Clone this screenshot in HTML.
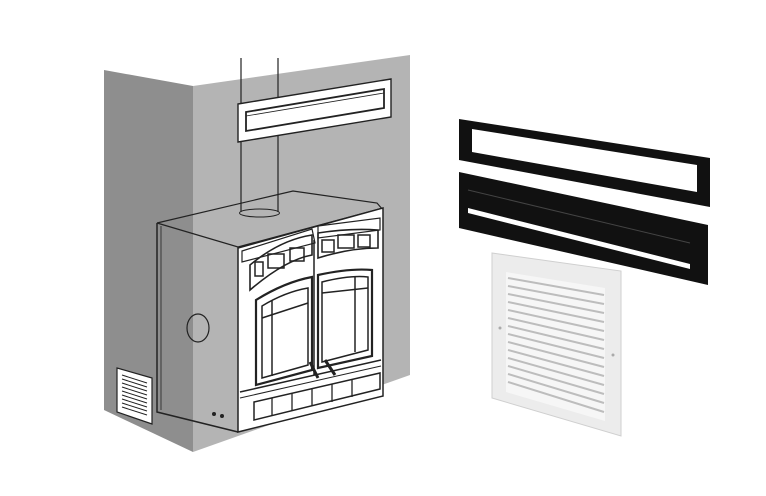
<!DOCTYPE html>
<html><head><meta charset="utf-8"><style>
html,body{margin:0;padding:0;background:#fff;}
svg{display:block}
</style></head><body>
<svg width="766" height="496" viewBox="0 0 766 496" xmlns="http://www.w3.org/2000/svg">
<rect width="766" height="496" fill="#fff"/>
<!-- walls -->
<polygon points="104,70 193,86 193,452 104,410" fill="#8e8e8e"/>
<polygon points="193,86 410,55 410,375 193,452" fill="#b4b4b4"/>
<!-- flue -->
<line x1="241" y1="58" x2="241" y2="212" stroke="#222" stroke-width="1.2"/>
<line x1="278" y1="58" x2="278" y2="212" stroke="#222" stroke-width="1.2"/>
<ellipse cx="259.5" cy="213" rx="20" ry="4" fill="none" stroke="#222" stroke-width="1"/>
<!-- top vent -->
<polygon points="238,104 391,79 391,117 238,142" fill="#fff" stroke="#222" stroke-width="1.4"/>
<polygon points="246,112 384,89 384,108 246,131" fill="#fff" stroke="#222" stroke-width="1.8"/>
<line x1="246" y1="116" x2="384" y2="93" stroke="#222" stroke-width="0.8"/>
<!-- box top & side outlines -->
<polyline points="157,223 293,191 377,203 383,210" fill="none" stroke="#222" stroke-width="1.2"/>
<polyline points="157,223 238,247 383,208" fill="none" stroke="#222" stroke-width="1.2"/>
<polyline points="157,223 157,412 238,432" fill="none" stroke="#222" stroke-width="1.5"/>
<line x1="161" y1="226" x2="161" y2="410" stroke="#222" stroke-width="0.8"/>
<ellipse cx="198" cy="328" rx="11" ry="14" fill="none" stroke="#222" stroke-width="1.2"/>
<circle cx="214" cy="414" r="2" fill="#222"/><circle cx="222" cy="416" r="2" fill="#222"/>
<!-- front face -->
<polygon points="238,248 383,208 383,396 238,432" fill="#fff" stroke="#222" stroke-width="1.5"/>
<polygon points="242,251 312,229 315,243 242,262" fill="none" stroke="#222" stroke-width="1.2"/>
<polygon points="318,226 380,218 380,230 318,238" fill="none" stroke="#222" stroke-width="1.2"/>
<!-- upper band -->
<path d="M250,265 Q280,240 312,235 L312,255 Q285,260 250,290 Z" fill="none" stroke="#222" stroke-width="1.6"/>
<path d="M318,233 Q350,228 378,230 L378,248 Q350,248 318,258 Z" fill="none" stroke="#222" stroke-width="1.6"/>
<rect x="255" y="262" width="8" height="14" fill="none" stroke="#222" stroke-width="1.5"/>
<rect x="268" y="254" width="16" height="14" fill="none" stroke="#222" stroke-width="1.5"/>
<rect x="290" y="248" width="14" height="13" fill="none" stroke="#222" stroke-width="1.5"/>
<rect x="322" y="240" width="12" height="12" fill="none" stroke="#222" stroke-width="1.5"/>
<rect x="338" y="235" width="16" height="13" fill="none" stroke="#222" stroke-width="1.5"/>
<rect x="358" y="235" width="12" height="12" fill="none" stroke="#222" stroke-width="1.5"/>
<!-- doors -->
<path d="M256,300 Q285,282 312,277 L312,370 L256,385 Z" fill="none" stroke="#222" stroke-width="2.2"/>
<path d="M262,306 Q285,292 308,288 L308,365 L262,378 Z" fill="none" stroke="#222" stroke-width="1.5"/>
<line x1="272" y1="300" x2="272" y2="376" stroke="#222" stroke-width="1.5"/>
<line x1="262" y1="318" x2="308" y2="303" stroke="#222" stroke-width="1.5"/>
<path d="M318,275 Q350,268 372,270 L372,356 L318,368 Z" fill="none" stroke="#222" stroke-width="2.2"/>
<path d="M322,282 Q350,275 368,277 L368,350 L322,362 Z" fill="none" stroke="#222" stroke-width="1.5"/>
<line x1="355" y1="276" x2="355" y2="352" stroke="#222" stroke-width="1.5"/>
<line x1="322" y1="293" x2="368" y2="288" stroke="#222" stroke-width="1.5"/>
<line x1="314" y1="240" x2="314" y2="375" stroke="#222" stroke-width="1.5"/>
<!-- bottom band -->
<line x1="240" y1="392" x2="381" y2="360" stroke="#222" stroke-width="1.5"/>
<line x1="240" y1="398" x2="381" y2="366" stroke="#222" stroke-width="1"/>
<polygon points="254,402 380,373 380,389 254,420" fill="none" stroke="#222" stroke-width="1.5"/>
<line x1="272" y1="398" x2="272" y2="416" stroke="#222" stroke-width="1.3"/>
<line x1="292" y1="393" x2="292" y2="411" stroke="#222" stroke-width="1.3"/>
<line x1="312" y1="389" x2="312" y2="406" stroke="#222" stroke-width="1.3"/>
<line x1="332" y1="384" x2="332" y2="402" stroke="#222" stroke-width="1.3"/>
<line x1="352" y1="380" x2="352" y2="397" stroke="#222" stroke-width="1.3"/>
<line x1="310" y1="362" x2="318" y2="378" stroke="#222" stroke-width="3"/>
<line x1="325" y1="360" x2="335" y2="375" stroke="#222" stroke-width="3"/>
<!-- small vent -->
<polygon points="117,368 152,378 152,424 117,412" fill="#fff" stroke="#222" stroke-width="1.2"/>
<g stroke="#222" stroke-width="1">
<line x1="122" y1="375" x2="147" y2="383"/><line x1="122" y1="379" x2="147" y2="387"/>
<line x1="122" y1="383" x2="147" y2="391"/><line x1="122" y1="387" x2="147" y2="395"/>
<line x1="122" y1="391" x2="147" y2="399"/><line x1="122" y1="395" x2="147" y2="403"/>
<line x1="122" y1="399" x2="147" y2="407"/><line x1="122" y1="403" x2="147" y2="411"/>
<line x1="122" y1="407" x2="147" y2="415"/>
</g>
<!-- right: black frame -->
<polygon points="459,119 710,158 710,207 459,160" fill="#111"/>
<polygon points="472,129 697,165 697,192 472,152" fill="#fff"/>
<!-- black panel -->
<polygon points="459,172 708,225 708,285 459,228" fill="#111"/>
<polygon points="468,208 690,264 690,269 468,213" fill="#fff"/>
<line x1="468" y1="190" x2="690" y2="243" stroke="#444" stroke-width="1"/>
<!-- grille -->
<polygon points="492,253 621,271 621,436 492,398" fill="#ececec" stroke="#cfcfcf"/>
<polygon points="506,272 605,288 605,421 506,392" fill="#f6f6f6"/>
<g stroke="#bdbdbd" stroke-width="2">
<line x1="508" y1="278" x2="604" y2="295"/><line x1="508" y1="286" x2="604" y2="304"/>
<line x1="508" y1="294" x2="604" y2="313"/><line x1="508" y1="302" x2="604" y2="322"/>
<line x1="508" y1="310" x2="604" y2="331"/><line x1="508" y1="318" x2="604" y2="340"/>
<line x1="508" y1="326" x2="604" y2="349"/><line x1="508" y1="334" x2="604" y2="358"/>
<line x1="508" y1="342" x2="604" y2="367"/><line x1="508" y1="350" x2="604" y2="376"/>
<line x1="508" y1="358" x2="604" y2="385"/><line x1="508" y1="366" x2="604" y2="394"/>
<line x1="508" y1="374" x2="604" y2="403"/><line x1="508" y1="382" x2="604" y2="412"/>
</g>
<circle cx="500" cy="328" r="1.5" fill="#aaa"/><circle cx="613" cy="355" r="1.5" fill="#aaa"/>
</svg>
</body></html>
